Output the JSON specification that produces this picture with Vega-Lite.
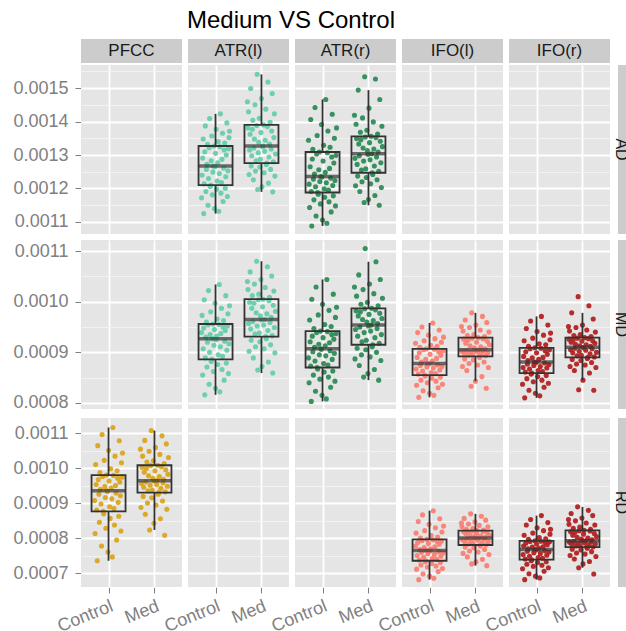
{
"$schema":"https://vega.github.io/schema/vega-lite/v6.json",
"padding":{"left":12,"top":9,"right":0,"bottom":0},
"background":"white",
"title":{"text":"Medium VS Control","fontSize":24,"fontWeight":"normal","font":"Liberation Sans","color":"#000000","anchor":"middle","dx":-32,"offset":6},
"config":{"view":{"stroke":null,"fill":"#E5E5E5"},"axis":{"labelFont":"Liberation Sans","labelFontSize":18,"labelColor":"#808080","tickColor":"#808080","domain":false},"text":{"font":"Liberation Sans"}},
"datasets":{
"panels":[{"p":"PFCC"},{"p":"ATR(l)"},{"p":"ATR(r)"},{"p":"IFO(l)"},{"p":"IFO(r)"}],
"strips":[{"t":"AD"},{"t":"MD"},{"t":"RD"}],
"pts":[
{"t":"AD","p":"PFCC","g":"Control","v":null},{"t":"AD","p":"IFO(l)","g":"Control","v":null},{"t":"AD","p":"IFO(r)","g":"Control","v":null},{"t":"MD","p":"PFCC","g":"Control","v":null},{"t":"RD","p":"ATR(l)","g":"Control","v":null},{"t":"RD","p":"ATR(r)","g":"Control","v":null},
{"t":"AD","p":"ATR(l)","g":"Control","v":0.001172},{"t":"AD","p":"ATR(l)","g":"Control","v":0.001240},{"t":"AD","p":"ATR(l)","g":"Control","v":0.001291},{"t":"AD","p":"ATR(l)","g":"Control","v":0.001348},
{"t":"AD","p":"ATR(l)","g":"Control","v":0.001125},{"t":"AD","p":"ATR(l)","g":"Control","v":0.001214},{"t":"AD","p":"ATR(l)","g":"Control","v":0.001310},{"t":"AD","p":"ATR(l)","g":"Control","v":0.001387},
{"t":"AD","p":"ATR(l)","g":"Control","v":0.001191},{"t":"AD","p":"ATR(l)","g":"Control","v":0.001257},{"t":"AD","p":"ATR(l)","g":"Control","v":0.001272},{"t":"AD","p":"ATR(l)","g":"Control","v":0.001332},
{"t":"AD","p":"ATR(l)","g":"Control","v":0.001150},{"t":"AD","p":"ATR(l)","g":"Control","v":0.001230},{"t":"AD","p":"ATR(l)","g":"Control","v":0.001322},{"t":"AD","p":"ATR(l)","g":"Control","v":0.001409},
{"t":"AD","p":"ATR(l)","g":"Control","v":0.001206},{"t":"AD","p":"ATR(l)","g":"Control","v":0.001210},{"t":"AD","p":"ATR(l)","g":"Control","v":0.001283},{"t":"AD","p":"ATR(l)","g":"Control","v":0.001357},
{"t":"AD","p":"ATR(l)","g":"Control","v":0.001181},{"t":"AD","p":"ATR(l)","g":"Control","v":0.001249},{"t":"AD","p":"ATR(l)","g":"Control","v":0.001267},{"t":"AD","p":"ATR(l)","g":"Control","v":0.001327},
{"t":"AD","p":"ATR(l)","g":"Control","v":0.001140},{"t":"AD","p":"ATR(l)","g":"Control","v":0.001265},{"t":"AD","p":"ATR(l)","g":"Control","v":0.001305},{"t":"AD","p":"ATR(l)","g":"Control","v":0.001377},
{"t":"AD","p":"ATR(l)","g":"Control","v":0.001198},{"t":"AD","p":"ATR(l)","g":"Control","v":0.001222},{"t":"AD","p":"ATR(l)","g":"Control","v":0.001277},{"t":"AD","p":"ATR(l)","g":"Control","v":0.001340},
{"t":"AD","p":"ATR(l)","g":"Control","v":0.001132},{"t":"AD","p":"ATR(l)","g":"Control","v":0.001245},{"t":"AD","p":"ATR(l)","g":"Control","v":0.001325},{"t":"AD","p":"ATR(l)","g":"Control","v":0.001423},
{"t":"AD","p":"ATR(l)","g":"Control","v":0.001186},{"t":"AD","p":"ATR(l)","g":"Control","v":0.001218},{"t":"AD","p":"ATR(l)","g":"Control","v":0.001287},{"t":"AD","p":"ATR(l)","g":"Control","v":0.001365},
{"t":"AD","p":"ATR(l)","g":"Control","v":0.001161},{"t":"AD","p":"ATR(l)","g":"Control","v":0.001261},{"t":"AD","p":"ATR(l)","g":"Control","v":0.001315},{"t":"AD","p":"ATR(l)","g":"Control","v":0.001336},
{"t":"AD","p":"ATR(l)","g":"Control","v":0.001201},{"t":"AD","p":"ATR(l)","g":"Control","v":0.001235},{"t":"AD","p":"ATR(l)","g":"Control","v":0.001300},{"t":"AD","p":"ATR(l)","g":"Control","v":0.001396},
{"t":"AD","p":"ATR(l)","g":"Control","v":0.001176},{"t":"AD","p":"ATR(l)","g":"Control","v":0.001253},{"t":"AD","p":"ATR(l)","g":"Control","v":0.001319},{"t":"AD","p":"ATR(l)","g":"Control","v":0.001352},
{"t":"AD","p":"ATR(l)","g":"Control","v":0.001371},
{"t":"AD","p":"ATR(l)","g":"Med","v":0.001459},
{"t":"AD","p":"ATR(l)","g":"Med","v":0.001381},{"t":"AD","p":"ATR(l)","g":"Med","v":0.001429},{"t":"AD","p":"ATR(l)","g":"Med","v":0.001242},{"t":"AD","p":"ATR(l)","g":"Med","v":0.001315},
{"t":"AD","p":"ATR(l)","g":"Med","v":0.001362},{"t":"AD","p":"ATR(l)","g":"Med","v":0.001499},{"t":"AD","p":"ATR(l)","g":"Med","v":0.001267},{"t":"AD","p":"ATR(l)","g":"Med","v":0.001298},
{"t":"AD","p":"ATR(l)","g":"Med","v":0.001377},{"t":"AD","p":"ATR(l)","g":"Med","v":0.001404},{"t":"AD","p":"ATR(l)","g":"Med","v":0.001226},{"t":"AD","p":"ATR(l)","g":"Med","v":0.001321},
{"t":"AD","p":"ATR(l)","g":"Med","v":0.001348},{"t":"AD","p":"ATR(l)","g":"Med","v":0.001450},{"t":"AD","p":"ATR(l)","g":"Med","v":0.001252},{"t":"AD","p":"ATR(l)","g":"Med","v":0.001283},
{"t":"AD","p":"ATR(l)","g":"Med","v":0.001388},{"t":"AD","p":"ATR(l)","g":"Med","v":0.001541},{"t":"AD","p":"ATR(l)","g":"Med","v":0.001197},{"t":"AD","p":"ATR(l)","g":"Med","v":0.001307},
{"t":"AD","p":"ATR(l)","g":"Med","v":0.001338},{"t":"AD","p":"ATR(l)","g":"Med","v":0.001410},{"t":"AD","p":"ATR(l)","g":"Med","v":0.001264},{"t":"AD","p":"ATR(l)","g":"Med","v":0.001287},
{"t":"AD","p":"ATR(l)","g":"Med","v":0.001367},{"t":"AD","p":"ATR(l)","g":"Med","v":0.001469},{"t":"AD","p":"ATR(l)","g":"Med","v":0.001205},{"t":"AD","p":"ATR(l)","g":"Med","v":0.001325},
{"t":"AD","p":"ATR(l)","g":"Med","v":0.001327},{"t":"AD","p":"ATR(l)","g":"Med","v":0.001390},{"t":"AD","p":"ATR(l)","g":"Med","v":0.001247},{"t":"AD","p":"ATR(l)","g":"Med","v":0.001311},
{"t":"AD","p":"ATR(l)","g":"Med","v":0.001344},{"t":"AD","p":"ATR(l)","g":"Med","v":0.001437},{"t":"AD","p":"ATR(l)","g":"Med","v":0.001272},{"t":"AD","p":"ATR(l)","g":"Med","v":0.001276},
{"t":"AD","p":"ATR(l)","g":"Med","v":0.001385},{"t":"AD","p":"ATR(l)","g":"Med","v":0.001518},{"t":"AD","p":"ATR(l)","g":"Med","v":0.001216},{"t":"AD","p":"ATR(l)","g":"Med","v":0.001294},
{"t":"AD","p":"ATR(l)","g":"Med","v":0.001333},{"t":"AD","p":"ATR(l)","g":"Med","v":0.001398},{"t":"AD","p":"ATR(l)","g":"Med","v":0.001257},{"t":"AD","p":"ATR(l)","g":"Med","v":0.001318},
{"t":"AD","p":"ATR(l)","g":"Med","v":0.001372},{"t":"AD","p":"ATR(l)","g":"Med","v":0.001484},{"t":"AD","p":"ATR(l)","g":"Med","v":0.001190},{"t":"AD","p":"ATR(l)","g":"Med","v":0.001280},
{"t":"AD","p":"ATR(l)","g":"Med","v":0.001352},{"t":"AD","p":"ATR(l)","g":"Med","v":0.001423},{"t":"AD","p":"ATR(l)","g":"Med","v":0.001237},{"t":"AD","p":"ATR(l)","g":"Med","v":0.001303},
{"t":"AD","p":"ATR(r)","g":"Control","v":0.001344},{"t":"AD","p":"ATR(r)","g":"Control","v":0.001213},{"t":"AD","p":"ATR(r)","g":"Control","v":0.001143},{"t":"AD","p":"ATR(r)","g":"Control","v":0.001265},
{"t":"AD","p":"ATR(r)","g":"Control","v":0.001406},{"t":"AD","p":"ATR(r)","g":"Control","v":0.001191},{"t":"AD","p":"ATR(r)","g":"Control","v":0.001088},{"t":"AD","p":"ATR(r)","g":"Control","v":0.001288},
{"t":"AD","p":"ATR(r)","g":"Control","v":0.001317},{"t":"AD","p":"ATR(r)","g":"Control","v":0.001228},{"t":"AD","p":"ATR(r)","g":"Control","v":0.001166},{"t":"AD","p":"ATR(r)","g":"Control","v":0.001243},
{"t":"AD","p":"ATR(r)","g":"Control","v":0.001442},{"t":"AD","p":"ATR(r)","g":"Control","v":0.001205},{"t":"AD","p":"ATR(r)","g":"Control","v":0.001118},{"t":"AD","p":"ATR(r)","g":"Control","v":0.001303},
{"t":"AD","p":"ATR(r)","g":"Control","v":0.001358},{"t":"AD","p":"ATR(r)","g":"Control","v":0.001188},{"t":"AD","p":"ATR(r)","g":"Control","v":0.001183},{"t":"AD","p":"ATR(r)","g":"Control","v":0.001256},
{"t":"AD","p":"ATR(r)","g":"Control","v":0.001309},{"t":"AD","p":"ATR(r)","g":"Control","v":0.001221},{"t":"AD","p":"ATR(r)","g":"Control","v":0.001154},{"t":"AD","p":"ATR(r)","g":"Control","v":0.001236},
{"t":"AD","p":"ATR(r)","g":"Control","v":0.001391},{"t":"AD","p":"ATR(r)","g":"Control","v":0.001234},{"t":"AD","p":"ATR(r)","g":"Control","v":0.001106},{"t":"AD","p":"ATR(r)","g":"Control","v":0.001282},
{"t":"AD","p":"ATR(r)","g":"Control","v":0.001329},{"t":"AD","p":"ATR(r)","g":"Control","v":0.001199},{"t":"AD","p":"ATR(r)","g":"Control","v":0.001174},{"t":"AD","p":"ATR(r)","g":"Control","v":0.001248},
{"t":"AD","p":"ATR(r)","g":"Control","v":0.001466},{"t":"AD","p":"ATR(r)","g":"Control","v":0.001217},{"t":"AD","p":"ATR(r)","g":"Control","v":0.001096},{"t":"AD","p":"ATR(r)","g":"Control","v":0.001307},
{"t":"AD","p":"ATR(r)","g":"Control","v":0.001372},{"t":"AD","p":"ATR(r)","g":"Control","v":0.001195},{"t":"AD","p":"ATR(r)","g":"Control","v":0.001160},{"t":"AD","p":"ATR(r)","g":"Control","v":0.001260},
{"t":"AD","p":"ATR(r)","g":"Control","v":0.001323},{"t":"AD","p":"ATR(r)","g":"Control","v":0.001231},{"t":"AD","p":"ATR(r)","g":"Control","v":0.001130},{"t":"AD","p":"ATR(r)","g":"Control","v":0.001294},
{"t":"AD","p":"ATR(r)","g":"Control","v":0.001422},{"t":"AD","p":"ATR(r)","g":"Control","v":0.001209},{"t":"AD","p":"ATR(r)","g":"Control","v":0.001178},{"t":"AD","p":"ATR(r)","g":"Control","v":0.001276},
{"t":"AD","p":"ATR(r)","g":"Control","v":0.001350},{"t":"AD","p":"ATR(r)","g":"Control","v":0.001224},{"t":"AD","p":"ATR(r)","g":"Control","v":0.001148},{"t":"AD","p":"ATR(r)","g":"Control","v":0.001299},
{"t":"AD","p":"ATR(r)","g":"Control","v":0.001381},
{"t":"AD","p":"ATR(r)","g":"Med","v":0.001419},
{"t":"AD","p":"ATR(r)","g":"Med","v":0.001290},{"t":"AD","p":"ATR(r)","g":"Med","v":0.001208},{"t":"AD","p":"ATR(r)","g":"Med","v":0.001392},{"t":"AD","p":"ATR(r)","g":"Med","v":0.001349},
{"t":"AD","p":"ATR(r)","g":"Med","v":0.001272},{"t":"AD","p":"ATR(r)","g":"Med","v":0.001237},{"t":"AD","p":"ATR(r)","g":"Med","v":0.001494},{"t":"AD","p":"ATR(r)","g":"Med","v":0.001333},
{"t":"AD","p":"ATR(r)","g":"Med","v":0.001298},{"t":"AD","p":"ATR(r)","g":"Med","v":0.001191},{"t":"AD","p":"ATR(r)","g":"Med","v":0.001368},{"t":"AD","p":"ATR(r)","g":"Med","v":0.001346},
{"t":"AD","p":"ATR(r)","g":"Med","v":0.001255},{"t":"AD","p":"ATR(r)","g":"Med","v":0.001220},{"t":"AD","p":"ATR(r)","g":"Med","v":0.001411},{"t":"AD","p":"ATR(r)","g":"Med","v":0.001321},
{"t":"AD","p":"ATR(r)","g":"Med","v":0.001282},{"t":"AD","p":"ATR(r)","g":"Med","v":0.001158},{"t":"AD","p":"ATR(r)","g":"Med","v":0.001534},{"t":"AD","p":"ATR(r)","g":"Med","v":0.001354},
{"t":"AD","p":"ATR(r)","g":"Med","v":0.001259},{"t":"AD","p":"ATR(r)","g":"Med","v":0.001233},{"t":"AD","p":"ATR(r)","g":"Med","v":0.001374},{"t":"AD","p":"ATR(r)","g":"Med","v":0.001313},
{"t":"AD","p":"ATR(r)","g":"Med","v":0.001302},{"t":"AD","p":"ATR(r)","g":"Med","v":0.001167},{"t":"AD","p":"ATR(r)","g":"Med","v":0.001440},{"t":"AD","p":"ATR(r)","g":"Med","v":0.001337},
{"t":"AD","p":"ATR(r)","g":"Med","v":0.001286},{"t":"AD","p":"ATR(r)","g":"Med","v":0.001214},{"t":"AD","p":"ATR(r)","g":"Med","v":0.001356},{"t":"AD","p":"ATR(r)","g":"Med","v":0.001304},
{"t":"AD","p":"ATR(r)","g":"Med","v":0.001247},{"t":"AD","p":"ATR(r)","g":"Med","v":0.001242},{"t":"AD","p":"ATR(r)","g":"Med","v":0.001399},{"t":"AD","p":"ATR(r)","g":"Med","v":0.001318},
{"t":"AD","p":"ATR(r)","g":"Med","v":0.001267},{"t":"AD","p":"ATR(r)","g":"Med","v":0.001179},{"t":"AD","p":"ATR(r)","g":"Med","v":0.001527},{"t":"AD","p":"ATR(r)","g":"Med","v":0.001352},
{"t":"AD","p":"ATR(r)","g":"Med","v":0.001294},{"t":"AD","p":"ATR(r)","g":"Med","v":0.001226},{"t":"AD","p":"ATR(r)","g":"Med","v":0.001363},{"t":"AD","p":"ATR(r)","g":"Med","v":0.001309},
{"t":"AD","p":"ATR(r)","g":"Med","v":0.001251},{"t":"AD","p":"ATR(r)","g":"Med","v":0.001150},{"t":"AD","p":"ATR(r)","g":"Med","v":0.001466},{"t":"AD","p":"ATR(r)","g":"Med","v":0.001341},
{"t":"AD","p":"ATR(r)","g":"Med","v":0.001277},{"t":"AD","p":"ATR(r)","g":"Med","v":0.001203},{"t":"AD","p":"ATR(r)","g":"Med","v":0.001386},{"t":"AD","p":"ATR(r)","g":"Med","v":0.001325},
{"t":"MD","p":"ATR(l)","g":"Control","v":0.000939},{"t":"MD","p":"ATR(l)","g":"Control","v":0.000973},{"t":"MD","p":"ATR(l)","g":"Control","v":0.000855},{"t":"MD","p":"ATR(l)","g":"Control","v":0.000907},
{"t":"MD","p":"ATR(l)","g":"Control","v":0.000948},{"t":"MD","p":"ATR(l)","g":"Control","v":0.001004},{"t":"MD","p":"ATR(l)","g":"Control","v":0.000816},{"t":"MD","p":"ATR(l)","g":"Control","v":0.000889},
{"t":"MD","p":"ATR(l)","g":"Control","v":0.000930},{"t":"MD","p":"ATR(l)","g":"Control","v":0.000960},{"t":"MD","p":"ATR(l)","g":"Control","v":0.000871},{"t":"MD","p":"ATR(l)","g":"Control","v":0.000920},
{"t":"MD","p":"ATR(l)","g":"Control","v":0.000954},{"t":"MD","p":"ATR(l)","g":"Control","v":0.001022},{"t":"MD","p":"ATR(l)","g":"Control","v":0.000837},{"t":"MD","p":"ATR(l)","g":"Control","v":0.000900},
{"t":"MD","p":"ATR(l)","g":"Control","v":0.000935},{"t":"MD","p":"ATR(l)","g":"Control","v":0.000980},{"t":"MD","p":"ATR(l)","g":"Control","v":0.000882},{"t":"MD","p":"ATR(l)","g":"Control","v":0.000886},
{"t":"MD","p":"ATR(l)","g":"Control","v":0.000927},{"t":"MD","p":"ATR(l)","g":"Control","v":0.000956},{"t":"MD","p":"ATR(l)","g":"Control","v":0.000862},{"t":"MD","p":"ATR(l)","g":"Control","v":0.000914},
{"t":"MD","p":"ATR(l)","g":"Control","v":0.000945},{"t":"MD","p":"ATR(l)","g":"Control","v":0.000997},{"t":"MD","p":"ATR(l)","g":"Control","v":0.000829},{"t":"MD","p":"ATR(l)","g":"Control","v":0.000925},
{"t":"MD","p":"ATR(l)","g":"Control","v":0.000932},{"t":"MD","p":"ATR(l)","g":"Control","v":0.000966},{"t":"MD","p":"ATR(l)","g":"Control","v":0.000876},{"t":"MD","p":"ATR(l)","g":"Control","v":0.000895},
{"t":"MD","p":"ATR(l)","g":"Control","v":0.000955},{"t":"MD","p":"ATR(l)","g":"Control","v":0.001034},{"t":"MD","p":"ATR(l)","g":"Control","v":0.000822},{"t":"MD","p":"ATR(l)","g":"Control","v":0.000911},
{"t":"MD","p":"ATR(l)","g":"Control","v":0.000937},{"t":"MD","p":"ATR(l)","g":"Control","v":0.000987},{"t":"MD","p":"ATR(l)","g":"Control","v":0.000866},{"t":"MD","p":"ATR(l)","g":"Control","v":0.000892},
{"t":"MD","p":"ATR(l)","g":"Control","v":0.000950},{"t":"MD","p":"ATR(l)","g":"Control","v":0.000963},{"t":"MD","p":"ATR(l)","g":"Control","v":0.000845},{"t":"MD","p":"ATR(l)","g":"Control","v":0.000922},
{"t":"MD","p":"ATR(l)","g":"Control","v":0.000943},{"t":"MD","p":"ATR(l)","g":"Control","v":0.001012},{"t":"MD","p":"ATR(l)","g":"Control","v":0.000879},{"t":"MD","p":"ATR(l)","g":"Control","v":0.000904},
{"t":"MD","p":"ATR(l)","g":"Control","v":0.000952},{"t":"MD","p":"ATR(l)","g":"Control","v":0.000976},{"t":"MD","p":"ATR(l)","g":"Control","v":0.000858},{"t":"MD","p":"ATR(l)","g":"Control","v":0.000917},
{"t":"MD","p":"ATR(l)","g":"Control","v":0.000992},
{"t":"MD","p":"ATR(l)","g":"Med","v":0.001040},
{"t":"MD","p":"ATR(l)","g":"Med","v":0.001024},{"t":"MD","p":"ATR(l)","g":"Med","v":0.000957},{"t":"MD","p":"ATR(l)","g":"Med","v":0.000902},{"t":"MD","p":"ATR(l)","g":"Med","v":0.000999},
{"t":"MD","p":"ATR(l)","g":"Med","v":0.001059},{"t":"MD","p":"ATR(l)","g":"Med","v":0.000946},{"t":"MD","p":"ATR(l)","g":"Med","v":0.000924},{"t":"MD","p":"ATR(l)","g":"Med","v":0.000987},
{"t":"MD","p":"ATR(l)","g":"Med","v":0.001012},{"t":"MD","p":"ATR(l)","g":"Med","v":0.000961},{"t":"MD","p":"ATR(l)","g":"Med","v":0.000889},{"t":"MD","p":"ATR(l)","g":"Med","v":0.000997},
{"t":"MD","p":"ATR(l)","g":"Med","v":0.001035},{"t":"MD","p":"ATR(l)","g":"Med","v":0.000936},{"t":"MD","p":"ATR(l)","g":"Med","v":0.000911},{"t":"MD","p":"ATR(l)","g":"Med","v":0.000978},
{"t":"MD","p":"ATR(l)","g":"Med","v":0.001080},{"t":"MD","p":"ATR(l)","g":"Med","v":0.000952},{"t":"MD","p":"ATR(l)","g":"Med","v":0.000865},{"t":"MD","p":"ATR(l)","g":"Med","v":0.001004},
{"t":"MD","p":"ATR(l)","g":"Med","v":0.001015},{"t":"MD","p":"ATR(l)","g":"Med","v":0.000938},{"t":"MD","p":"ATR(l)","g":"Med","v":0.000921},{"t":"MD","p":"ATR(l)","g":"Med","v":0.000972},
{"t":"MD","p":"ATR(l)","g":"Med","v":0.001044},{"t":"MD","p":"ATR(l)","g":"Med","v":0.000964},{"t":"MD","p":"ATR(l)","g":"Med","v":0.000872},{"t":"MD","p":"ATR(l)","g":"Med","v":0.000990},
{"t":"MD","p":"ATR(l)","g":"Med","v":0.001005},{"t":"MD","p":"ATR(l)","g":"Med","v":0.000954},{"t":"MD","p":"ATR(l)","g":"Med","v":0.000907},{"t":"MD","p":"ATR(l)","g":"Med","v":0.000965},
{"t":"MD","p":"ATR(l)","g":"Med","v":0.001028},{"t":"MD","p":"ATR(l)","g":"Med","v":0.000931},{"t":"MD","p":"ATR(l)","g":"Med","v":0.000927},{"t":"MD","p":"ATR(l)","g":"Med","v":0.000976},
{"t":"MD","p":"ATR(l)","g":"Med","v":0.001069},{"t":"MD","p":"ATR(l)","g":"Med","v":0.000943},{"t":"MD","p":"ATR(l)","g":"Med","v":0.000881},{"t":"MD","p":"ATR(l)","g":"Med","v":0.001002},
{"t":"MD","p":"ATR(l)","g":"Med","v":0.001009},{"t":"MD","p":"ATR(l)","g":"Med","v":0.000959},{"t":"MD","p":"ATR(l)","g":"Med","v":0.000915},{"t":"MD","p":"ATR(l)","g":"Med","v":0.000969},
{"t":"MD","p":"ATR(l)","g":"Med","v":0.001051},{"t":"MD","p":"ATR(l)","g":"Med","v":0.000933},{"t":"MD","p":"ATR(l)","g":"Med","v":0.000859},{"t":"MD","p":"ATR(l)","g":"Med","v":0.000993},
{"t":"MD","p":"ATR(l)","g":"Med","v":0.001021},{"t":"MD","p":"ATR(l)","g":"Med","v":0.000949},{"t":"MD","p":"ATR(l)","g":"Med","v":0.000899},{"t":"MD","p":"ATR(l)","g":"Med","v":0.000981},
{"t":"MD","p":"ATR(r)","g":"Control","v":0.000889},{"t":"MD","p":"ATR(r)","g":"Control","v":0.000840},{"t":"MD","p":"ATR(r)","g":"Control","v":0.000964},{"t":"MD","p":"ATR(r)","g":"Control","v":0.000921},
{"t":"MD","p":"ATR(r)","g":"Control","v":0.000873},{"t":"MD","p":"ATR(r)","g":"Control","v":0.000803},{"t":"MD","p":"ATR(r)","g":"Control","v":0.001005},{"t":"MD","p":"ATR(r)","g":"Control","v":0.000932},
{"t":"MD","p":"ATR(r)","g":"Control","v":0.000901},{"t":"MD","p":"ATR(r)","g":"Control","v":0.000855},{"t":"MD","p":"ATR(r)","g":"Control","v":0.000947},{"t":"MD","p":"ATR(r)","g":"Control","v":0.000910},
{"t":"MD","p":"ATR(r)","g":"Control","v":0.000883},{"t":"MD","p":"ATR(r)","g":"Control","v":0.000823},{"t":"MD","p":"ATR(r)","g":"Control","v":0.001029},{"t":"MD","p":"ATR(r)","g":"Control","v":0.000939},
{"t":"MD","p":"ATR(r)","g":"Control","v":0.000870},{"t":"MD","p":"ATR(r)","g":"Control","v":0.000867},{"t":"MD","p":"ATR(r)","g":"Control","v":0.000974},{"t":"MD","p":"ATR(r)","g":"Control","v":0.000916},
{"t":"MD","p":"ATR(r)","g":"Control","v":0.000895},{"t":"MD","p":"ATR(r)","g":"Control","v":0.000847},{"t":"MD","p":"ATR(r)","g":"Control","v":0.000942},{"t":"MD","p":"ATR(r)","g":"Control","v":0.000907},
{"t":"MD","p":"ATR(r)","g":"Control","v":0.000906},{"t":"MD","p":"ATR(r)","g":"Control","v":0.000815},{"t":"MD","p":"ATR(r)","g":"Control","v":0.000995},{"t":"MD","p":"ATR(r)","g":"Control","v":0.000929},
{"t":"MD","p":"ATR(r)","g":"Control","v":0.000878},{"t":"MD","p":"ATR(r)","g":"Control","v":0.000861},{"t":"MD","p":"ATR(r)","g":"Control","v":0.000955},{"t":"MD","p":"ATR(r)","g":"Control","v":0.000913},
{"t":"MD","p":"ATR(r)","g":"Control","v":0.000893},{"t":"MD","p":"ATR(r)","g":"Control","v":0.000808},{"t":"MD","p":"ATR(r)","g":"Control","v":0.001044},{"t":"MD","p":"ATR(r)","g":"Control","v":0.000941},
{"t":"MD","p":"ATR(r)","g":"Control","v":0.000875},{"t":"MD","p":"ATR(r)","g":"Control","v":0.000851},{"t":"MD","p":"ATR(r)","g":"Control","v":0.000983},{"t":"MD","p":"ATR(r)","g":"Control","v":0.000919},
{"t":"MD","p":"ATR(r)","g":"Control","v":0.000903},{"t":"MD","p":"ATR(r)","g":"Control","v":0.000831},{"t":"MD","p":"ATR(r)","g":"Control","v":0.000951},{"t":"MD","p":"ATR(r)","g":"Control","v":0.000935},
{"t":"MD","p":"ATR(r)","g":"Control","v":0.000886},{"t":"MD","p":"ATR(r)","g":"Control","v":0.000863},{"t":"MD","p":"ATR(r)","g":"Control","v":0.001015},{"t":"MD","p":"ATR(r)","g":"Control","v":0.000926},
{"t":"MD","p":"ATR(r)","g":"Control","v":0.000898},{"t":"MD","p":"ATR(r)","g":"Control","v":0.000843},{"t":"MD","p":"ATR(r)","g":"Control","v":0.000969},{"t":"MD","p":"ATR(r)","g":"Control","v":0.000937},
{"t":"MD","p":"ATR(r)","g":"Control","v":0.000989},
{"t":"MD","p":"ATR(r)","g":"Med","v":0.001029},
{"t":"MD","p":"ATR(r)","g":"Med","v":0.000887},{"t":"MD","p":"ATR(r)","g":"Med","v":0.000945},{"t":"MD","p":"ATR(r)","g":"Med","v":0.000982},{"t":"MD","p":"ATR(r)","g":"Med","v":0.001011},
{"t":"MD","p":"ATR(r)","g":"Med","v":0.000908},{"t":"MD","p":"ATR(r)","g":"Med","v":0.000932},{"t":"MD","p":"ATR(r)","g":"Med","v":0.000972},{"t":"MD","p":"ATR(r)","g":"Med","v":0.001053},
{"t":"MD","p":"ATR(r)","g":"Med","v":0.000874},{"t":"MD","p":"ATR(r)","g":"Med","v":0.000950},{"t":"MD","p":"ATR(r)","g":"Med","v":0.000980},{"t":"MD","p":"ATR(r)","g":"Med","v":0.000995},
{"t":"MD","p":"ATR(r)","g":"Med","v":0.000895},{"t":"MD","p":"ATR(r)","g":"Med","v":0.000921},{"t":"MD","p":"ATR(r)","g":"Med","v":0.000965},{"t":"MD","p":"ATR(r)","g":"Med","v":0.001024},
{"t":"MD","p":"ATR(r)","g":"Med","v":0.000851},{"t":"MD","p":"ATR(r)","g":"Med","v":0.000939},{"t":"MD","p":"ATR(r)","g":"Med","v":0.000986},{"t":"MD","p":"ATR(r)","g":"Med","v":0.001105},
{"t":"MD","p":"ATR(r)","g":"Med","v":0.000905},{"t":"MD","p":"ATR(r)","g":"Med","v":0.000924},{"t":"MD","p":"ATR(r)","g":"Med","v":0.000960},{"t":"MD","p":"ATR(r)","g":"Med","v":0.000999},
{"t":"MD","p":"ATR(r)","g":"Med","v":0.000858},{"t":"MD","p":"ATR(r)","g":"Med","v":0.000952},{"t":"MD","p":"ATR(r)","g":"Med","v":0.000975},{"t":"MD","p":"ATR(r)","g":"Med","v":0.001035},
{"t":"MD","p":"ATR(r)","g":"Med","v":0.000891},{"t":"MD","p":"ATR(r)","g":"Med","v":0.000942},{"t":"MD","p":"ATR(r)","g":"Med","v":0.000954},{"t":"MD","p":"ATR(r)","g":"Med","v":0.000987},
{"t":"MD","p":"ATR(r)","g":"Med","v":0.000911},{"t":"MD","p":"ATR(r)","g":"Med","v":0.000915},{"t":"MD","p":"ATR(r)","g":"Med","v":0.000963},{"t":"MD","p":"ATR(r)","g":"Med","v":0.001016},
{"t":"MD","p":"ATR(r)","g":"Med","v":0.000866},{"t":"MD","p":"ATR(r)","g":"Med","v":0.000929},{"t":"MD","p":"ATR(r)","g":"Med","v":0.000984},{"t":"MD","p":"ATR(r)","g":"Med","v":0.001079},
{"t":"MD","p":"ATR(r)","g":"Med","v":0.000900},{"t":"MD","p":"ATR(r)","g":"Med","v":0.000947},{"t":"MD","p":"ATR(r)","g":"Med","v":0.000957},{"t":"MD","p":"ATR(r)","g":"Med","v":0.000992},
{"t":"MD","p":"ATR(r)","g":"Med","v":0.000845},{"t":"MD","p":"ATR(r)","g":"Med","v":0.000918},{"t":"MD","p":"ATR(r)","g":"Med","v":0.000977},{"t":"MD","p":"ATR(r)","g":"Med","v":0.001044},
{"t":"MD","p":"ATR(r)","g":"Med","v":0.000884},{"t":"MD","p":"ATR(r)","g":"Med","v":0.000935},{"t":"MD","p":"ATR(r)","g":"Med","v":0.000967},{"t":"MD","p":"ATR(r)","g":"Med","v":0.001007},
{"t":"MD","p":"IFO(l)","g":"Control","v":0.000918},{"t":"MD","p":"IFO(l)","g":"Control","v":0.000867},{"t":"MD","p":"IFO(l)","g":"Control","v":0.000835},{"t":"MD","p":"IFO(l)","g":"Control","v":0.000890},
{"t":"MD","p":"IFO(l)","g":"Control","v":0.000939},{"t":"MD","p":"IFO(l)","g":"Control","v":0.000857},{"t":"MD","p":"IFO(l)","g":"Control","v":0.000811},{"t":"MD","p":"IFO(l)","g":"Control","v":0.000899},
{"t":"MD","p":"IFO(l)","g":"Control","v":0.000910},{"t":"MD","p":"IFO(l)","g":"Control","v":0.000874},{"t":"MD","p":"IFO(l)","g":"Control","v":0.000845},{"t":"MD","p":"IFO(l)","g":"Control","v":0.000881},
{"t":"MD","p":"IFO(l)","g":"Control","v":0.000950},{"t":"MD","p":"IFO(l)","g":"Control","v":0.000863},{"t":"MD","p":"IFO(l)","g":"Control","v":0.000824},{"t":"MD","p":"IFO(l)","g":"Control","v":0.000905},
{"t":"MD","p":"IFO(l)","g":"Control","v":0.000923},{"t":"MD","p":"IFO(l)","g":"Control","v":0.000855},{"t":"MD","p":"IFO(l)","g":"Control","v":0.000853},{"t":"MD","p":"IFO(l)","g":"Control","v":0.000886},
{"t":"MD","p":"IFO(l)","g":"Control","v":0.000907},{"t":"MD","p":"IFO(l)","g":"Control","v":0.000871},{"t":"MD","p":"IFO(l)","g":"Control","v":0.000840},{"t":"MD","p":"IFO(l)","g":"Control","v":0.000878},
{"t":"MD","p":"IFO(l)","g":"Control","v":0.000934},{"t":"MD","p":"IFO(l)","g":"Control","v":0.000877},{"t":"MD","p":"IFO(l)","g":"Control","v":0.000819},{"t":"MD","p":"IFO(l)","g":"Control","v":0.000896},
{"t":"MD","p":"IFO(l)","g":"Control","v":0.000914},{"t":"MD","p":"IFO(l)","g":"Control","v":0.000860},{"t":"MD","p":"IFO(l)","g":"Control","v":0.000849},{"t":"MD","p":"IFO(l)","g":"Control","v":0.000883},
{"t":"MD","p":"IFO(l)","g":"Control","v":0.000958},{"t":"MD","p":"IFO(l)","g":"Control","v":0.000869},{"t":"MD","p":"IFO(l)","g":"Control","v":0.000815},{"t":"MD","p":"IFO(l)","g":"Control","v":0.000906},
{"t":"MD","p":"IFO(l)","g":"Control","v":0.000927},{"t":"MD","p":"IFO(l)","g":"Control","v":0.000858},{"t":"MD","p":"IFO(l)","g":"Control","v":0.000843},{"t":"MD","p":"IFO(l)","g":"Control","v":0.000888},
{"t":"MD","p":"IFO(l)","g":"Control","v":0.000912},{"t":"MD","p":"IFO(l)","g":"Control","v":0.000875},{"t":"MD","p":"IFO(l)","g":"Control","v":0.000830},{"t":"MD","p":"IFO(l)","g":"Control","v":0.000901},
{"t":"MD","p":"IFO(l)","g":"Control","v":0.000944},{"t":"MD","p":"IFO(l)","g":"Control","v":0.000865},{"t":"MD","p":"IFO(l)","g":"Control","v":0.000851},{"t":"MD","p":"IFO(l)","g":"Control","v":0.000894},
{"t":"MD","p":"IFO(l)","g":"Control","v":0.000920},{"t":"MD","p":"IFO(l)","g":"Control","v":0.000872},{"t":"MD","p":"IFO(l)","g":"Control","v":0.000837},{"t":"MD","p":"IFO(l)","g":"Control","v":0.000903},
{"t":"MD","p":"IFO(l)","g":"Control","v":0.000930},
{"t":"MD","p":"IFO(l)","g":"Med","v":0.000951},
{"t":"MD","p":"IFO(l)","g":"Med","v":0.000902},{"t":"MD","p":"IFO(l)","g":"Med","v":0.000872},{"t":"MD","p":"IFO(l)","g":"Med","v":0.000942},{"t":"MD","p":"IFO(l)","g":"Med","v":0.000926},
{"t":"MD","p":"IFO(l)","g":"Med","v":0.000898},{"t":"MD","p":"IFO(l)","g":"Med","v":0.000887},{"t":"MD","p":"IFO(l)","g":"Med","v":0.000964},{"t":"MD","p":"IFO(l)","g":"Med","v":0.000918},
{"t":"MD","p":"IFO(l)","g":"Med","v":0.000903},{"t":"MD","p":"IFO(l)","g":"Med","v":0.000864},{"t":"MD","p":"IFO(l)","g":"Med","v":0.000933},{"t":"MD","p":"IFO(l)","g":"Med","v":0.000924},
{"t":"MD","p":"IFO(l)","g":"Med","v":0.000894},{"t":"MD","p":"IFO(l)","g":"Med","v":0.000878},{"t":"MD","p":"IFO(l)","g":"Med","v":0.000949},{"t":"MD","p":"IFO(l)","g":"Med","v":0.000913},
{"t":"MD","p":"IFO(l)","g":"Med","v":0.000900},{"t":"MD","p":"IFO(l)","g":"Med","v":0.000833},{"t":"MD","p":"IFO(l)","g":"Med","v":0.000978},{"t":"MD","p":"IFO(l)","g":"Med","v":0.000928},
{"t":"MD","p":"IFO(l)","g":"Med","v":0.000895},{"t":"MD","p":"IFO(l)","g":"Med","v":0.000885},{"t":"MD","p":"IFO(l)","g":"Med","v":0.000935},{"t":"MD","p":"IFO(l)","g":"Med","v":0.000909},
{"t":"MD","p":"IFO(l)","g":"Med","v":0.000904},{"t":"MD","p":"IFO(l)","g":"Med","v":0.000843},{"t":"MD","p":"IFO(l)","g":"Med","v":0.000954},{"t":"MD","p":"IFO(l)","g":"Med","v":0.000920},
{"t":"MD","p":"IFO(l)","g":"Med","v":0.000901},{"t":"MD","p":"IFO(l)","g":"Med","v":0.000875},{"t":"MD","p":"IFO(l)","g":"Med","v":0.000929},{"t":"MD","p":"IFO(l)","g":"Med","v":0.000905},
{"t":"MD","p":"IFO(l)","g":"Med","v":0.000892},{"t":"MD","p":"IFO(l)","g":"Med","v":0.000890},{"t":"MD","p":"IFO(l)","g":"Med","v":0.000944},{"t":"MD","p":"IFO(l)","g":"Med","v":0.000911},
{"t":"MD","p":"IFO(l)","g":"Med","v":0.000897},{"t":"MD","p":"IFO(l)","g":"Med","v":0.000852},{"t":"MD","p":"IFO(l)","g":"Med","v":0.000971},{"t":"MD","p":"IFO(l)","g":"Med","v":0.000927},
{"t":"MD","p":"IFO(l)","g":"Med","v":0.000903},{"t":"MD","p":"IFO(l)","g":"Med","v":0.000881},{"t":"MD","p":"IFO(l)","g":"Med","v":0.000931},{"t":"MD","p":"IFO(l)","g":"Med","v":0.000907},
{"t":"MD","p":"IFO(l)","g":"Med","v":0.000893},{"t":"MD","p":"IFO(l)","g":"Med","v":0.000829},{"t":"MD","p":"IFO(l)","g":"Med","v":0.000959},{"t":"MD","p":"IFO(l)","g":"Med","v":0.000922},
{"t":"MD","p":"IFO(l)","g":"Med","v":0.000899},{"t":"MD","p":"IFO(l)","g":"Med","v":0.000870},{"t":"MD","p":"IFO(l)","g":"Med","v":0.000940},{"t":"MD","p":"IFO(l)","g":"Med","v":0.000915},
{"t":"MD","p":"IFO(r)","g":"Control","v":0.000837},{"t":"MD","p":"IFO(r)","g":"Control","v":0.000870},{"t":"MD","p":"IFO(r)","g":"Control","v":0.000892},{"t":"MD","p":"IFO(r)","g":"Control","v":0.000923},
{"t":"MD","p":"IFO(r)","g":"Control","v":0.000810},{"t":"MD","p":"IFO(r)","g":"Control","v":0.000861},{"t":"MD","p":"IFO(r)","g":"Control","v":0.000901},{"t":"MD","p":"IFO(r)","g":"Control","v":0.000947},
{"t":"MD","p":"IFO(r)","g":"Control","v":0.000848},{"t":"MD","p":"IFO(r)","g":"Control","v":0.000877},{"t":"MD","p":"IFO(r)","g":"Control","v":0.000884},{"t":"MD","p":"IFO(r)","g":"Control","v":0.000912},
{"t":"MD","p":"IFO(r)","g":"Control","v":0.000825},{"t":"MD","p":"IFO(r)","g":"Control","v":0.000867},{"t":"MD","p":"IFO(r)","g":"Control","v":0.000907},{"t":"MD","p":"IFO(r)","g":"Control","v":0.000962},
{"t":"MD","p":"IFO(r)","g":"Control","v":0.000857},{"t":"MD","p":"IFO(r)","g":"Control","v":0.000859},{"t":"MD","p":"IFO(r)","g":"Control","v":0.000889},{"t":"MD","p":"IFO(r)","g":"Control","v":0.000928},
{"t":"MD","p":"IFO(r)","g":"Control","v":0.000842},{"t":"MD","p":"IFO(r)","g":"Control","v":0.000874},{"t":"MD","p":"IFO(r)","g":"Control","v":0.000881},{"t":"MD","p":"IFO(r)","g":"Control","v":0.000909},
{"t":"MD","p":"IFO(r)","g":"Control","v":0.000819},{"t":"MD","p":"IFO(r)","g":"Control","v":0.000880},{"t":"MD","p":"IFO(r)","g":"Control","v":0.000899},{"t":"MD","p":"IFO(r)","g":"Control","v":0.000941},
{"t":"MD","p":"IFO(r)","g":"Control","v":0.000852},{"t":"MD","p":"IFO(r)","g":"Control","v":0.000864},{"t":"MD","p":"IFO(r)","g":"Control","v":0.000886},{"t":"MD","p":"IFO(r)","g":"Control","v":0.000917},
{"t":"MD","p":"IFO(r)","g":"Control","v":0.000814},{"t":"MD","p":"IFO(r)","g":"Control","v":0.000872},{"t":"MD","p":"IFO(r)","g":"Control","v":0.000908},{"t":"MD","p":"IFO(r)","g":"Control","v":0.000971},
{"t":"MD","p":"IFO(r)","g":"Control","v":0.000845},{"t":"MD","p":"IFO(r)","g":"Control","v":0.000862},{"t":"MD","p":"IFO(r)","g":"Control","v":0.000890},{"t":"MD","p":"IFO(r)","g":"Control","v":0.000934},
{"t":"MD","p":"IFO(r)","g":"Control","v":0.000831},{"t":"MD","p":"IFO(r)","g":"Control","v":0.000879},{"t":"MD","p":"IFO(r)","g":"Control","v":0.000903},{"t":"MD","p":"IFO(r)","g":"Control","v":0.000915},
{"t":"MD","p":"IFO(r)","g":"Control","v":0.000854},{"t":"MD","p":"IFO(r)","g":"Control","v":0.000869},{"t":"MD","p":"IFO(r)","g":"Control","v":0.000896},{"t":"MD","p":"IFO(r)","g":"Control","v":0.000954},
{"t":"MD","p":"IFO(r)","g":"Control","v":0.000839},{"t":"MD","p":"IFO(r)","g":"Control","v":0.000876},{"t":"MD","p":"IFO(r)","g":"Control","v":0.000905},{"t":"MD","p":"IFO(r)","g":"Control","v":0.000925},
{"t":"MD","p":"IFO(r)","g":"Control","v":0.000938},
{"t":"MD","p":"IFO(r)","g":"Med","v":0.000951},
{"t":"MD","p":"IFO(r)","g":"Med","v":0.000926},{"t":"MD","p":"IFO(r)","g":"Med","v":0.000942},{"t":"MD","p":"IFO(r)","g":"Med","v":0.000872},{"t":"MD","p":"IFO(r)","g":"Med","v":0.000905},
{"t":"MD","p":"IFO(r)","g":"Med","v":0.000920},{"t":"MD","p":"IFO(r)","g":"Med","v":0.000978},{"t":"MD","p":"IFO(r)","g":"Med","v":0.000886},{"t":"MD","p":"IFO(r)","g":"Med","v":0.000899},
{"t":"MD","p":"IFO(r)","g":"Med","v":0.000925},{"t":"MD","p":"IFO(r)","g":"Med","v":0.000933},{"t":"MD","p":"IFO(r)","g":"Med","v":0.000864},{"t":"MD","p":"IFO(r)","g":"Med","v":0.000908},
{"t":"MD","p":"IFO(r)","g":"Med","v":0.000916},{"t":"MD","p":"IFO(r)","g":"Med","v":0.000949},{"t":"MD","p":"IFO(r)","g":"Med","v":0.000877},{"t":"MD","p":"IFO(r)","g":"Med","v":0.000893},
{"t":"MD","p":"IFO(r)","g":"Med","v":0.000928},{"t":"MD","p":"IFO(r)","g":"Med","v":0.001010},{"t":"MD","p":"IFO(r)","g":"Med","v":0.000826},{"t":"MD","p":"IFO(r)","g":"Med","v":0.000902},
{"t":"MD","p":"IFO(r)","g":"Med","v":0.000913},{"t":"MD","p":"IFO(r)","g":"Med","v":0.000935},{"t":"MD","p":"IFO(r)","g":"Med","v":0.000884},{"t":"MD","p":"IFO(r)","g":"Med","v":0.000894},
{"t":"MD","p":"IFO(r)","g":"Med","v":0.000922},{"t":"MD","p":"IFO(r)","g":"Med","v":0.000954},{"t":"MD","p":"IFO(r)","g":"Med","v":0.000845},{"t":"MD","p":"IFO(r)","g":"Med","v":0.000909},
{"t":"MD","p":"IFO(r)","g":"Med","v":0.000910},{"t":"MD","p":"IFO(r)","g":"Med","v":0.000929},{"t":"MD","p":"IFO(r)","g":"Med","v":0.000875},{"t":"MD","p":"IFO(r)","g":"Med","v":0.000904},
{"t":"MD","p":"IFO(r)","g":"Med","v":0.000915},{"t":"MD","p":"IFO(r)","g":"Med","v":0.000944},{"t":"MD","p":"IFO(r)","g":"Med","v":0.000888},{"t":"MD","p":"IFO(r)","g":"Med","v":0.000890},
{"t":"MD","p":"IFO(r)","g":"Med","v":0.000927},{"t":"MD","p":"IFO(r)","g":"Med","v":0.000992},{"t":"MD","p":"IFO(r)","g":"Med","v":0.000859},{"t":"MD","p":"IFO(r)","g":"Med","v":0.000897},
{"t":"MD","p":"IFO(r)","g":"Med","v":0.000912},{"t":"MD","p":"IFO(r)","g":"Med","v":0.000931},{"t":"MD","p":"IFO(r)","g":"Med","v":0.000880},{"t":"MD","p":"IFO(r)","g":"Med","v":0.000907},
{"t":"MD","p":"IFO(r)","g":"Med","v":0.000923},{"t":"MD","p":"IFO(r)","g":"Med","v":0.000966},{"t":"MD","p":"IFO(r)","g":"Med","v":0.000825},{"t":"MD","p":"IFO(r)","g":"Med","v":0.000891},
{"t":"MD","p":"IFO(r)","g":"Med","v":0.000918},{"t":"MD","p":"IFO(r)","g":"Med","v":0.000940},{"t":"MD","p":"IFO(r)","g":"Med","v":0.000870},{"t":"MD","p":"IFO(r)","g":"Med","v":0.000900},
{"t":"RD","p":"PFCC","g":"Control","v":0.000907},{"t":"RD","p":"PFCC","g":"Control","v":0.000813},{"t":"RD","p":"PFCC","g":"Control","v":0.001010},{"t":"RD","p":"PFCC","g":"Control","v":0.000953},
{"t":"RD","p":"PFCC","g":"Control","v":0.000880},{"t":"RD","p":"PFCC","g":"Control","v":0.000735},{"t":"RD","p":"PFCC","g":"Control","v":0.001064},{"t":"RD","p":"PFCC","g":"Control","v":0.000967},
{"t":"RD","p":"PFCC","g":"Control","v":0.000925},{"t":"RD","p":"PFCC","g":"Control","v":0.000845},{"t":"RD","p":"PFCC","g":"Control","v":0.000987},{"t":"RD","p":"PFCC","g":"Control","v":0.000939},
{"t":"RD","p":"PFCC","g":"Control","v":0.000897},{"t":"RD","p":"PFCC","g":"Control","v":0.000777},{"t":"RD","p":"PFCC","g":"Control","v":0.001096},{"t":"RD","p":"PFCC","g":"Control","v":0.000976},
{"t":"RD","p":"PFCC","g":"Control","v":0.000876},{"t":"RD","p":"PFCC","g":"Control","v":0.000869},{"t":"RD","p":"PFCC","g":"Control","v":0.001022},{"t":"RD","p":"PFCC","g":"Control","v":0.000947},
{"t":"RD","p":"PFCC","g":"Control","v":0.000916},{"t":"RD","p":"PFCC","g":"Control","v":0.000828},{"t":"RD","p":"PFCC","g":"Control","v":0.000980},{"t":"RD","p":"PFCC","g":"Control","v":0.000935},
{"t":"RD","p":"PFCC","g":"Control","v":0.000933},{"t":"RD","p":"PFCC","g":"Control","v":0.000760},{"t":"RD","p":"PFCC","g":"Control","v":0.001051},{"t":"RD","p":"PFCC","g":"Control","v":0.000963},
{"t":"RD","p":"PFCC","g":"Control","v":0.000889},{"t":"RD","p":"PFCC","g":"Control","v":0.000856},{"t":"RD","p":"PFCC","g":"Control","v":0.000998},{"t":"RD","p":"PFCC","g":"Control","v":0.000943},
{"t":"RD","p":"PFCC","g":"Control","v":0.000912},{"t":"RD","p":"PFCC","g":"Control","v":0.000746},{"t":"RD","p":"PFCC","g":"Control","v":0.001116},{"t":"RD","p":"PFCC","g":"Control","v":0.000979},
{"t":"RD","p":"PFCC","g":"Control","v":0.000884},{"t":"RD","p":"PFCC","g":"Control","v":0.000837},{"t":"RD","p":"PFCC","g":"Control","v":0.001034},{"t":"RD","p":"PFCC","g":"Control","v":0.000950},
{"t":"RD","p":"PFCC","g":"Control","v":0.000929},{"t":"RD","p":"PFCC","g":"Control","v":0.000794},{"t":"RD","p":"PFCC","g":"Control","v":0.000992},{"t":"RD","p":"PFCC","g":"Control","v":0.000971},
{"t":"RD","p":"PFCC","g":"Control","v":0.000902},{"t":"RD","p":"PFCC","g":"Control","v":0.000862},{"t":"RD","p":"PFCC","g":"Control","v":0.001078},{"t":"RD","p":"PFCC","g":"Control","v":0.000960},
{"t":"RD","p":"PFCC","g":"Control","v":0.000921},{"t":"RD","p":"PFCC","g":"Control","v":0.000820},{"t":"RD","p":"PFCC","g":"Control","v":0.001015},{"t":"RD","p":"PFCC","g":"Control","v":0.000974},
{"t":"RD","p":"PFCC","g":"Control","v":0.001043},
{"t":"RD","p":"PFCC","g":"Med","v":0.001054},
{"t":"RD","p":"PFCC","g":"Med","v":0.000887},{"t":"RD","p":"PFCC","g":"Med","v":0.000956},{"t":"RD","p":"PFCC","g":"Med","v":0.001002},{"t":"RD","p":"PFCC","g":"Med","v":0.001034},
{"t":"RD","p":"PFCC","g":"Med","v":0.000919},{"t":"RD","p":"PFCC","g":"Med","v":0.000945},{"t":"RD","p":"PFCC","g":"Med","v":0.000988},{"t":"RD","p":"PFCC","g":"Med","v":0.001079},
{"t":"RD","p":"PFCC","g":"Med","v":0.000868},{"t":"RD","p":"PFCC","g":"Med","v":0.000960},{"t":"RD","p":"PFCC","g":"Med","v":0.000999},{"t":"RD","p":"PFCC","g":"Med","v":0.001017},
{"t":"RD","p":"PFCC","g":"Med","v":0.000900},{"t":"RD","p":"PFCC","g":"Med","v":0.000935},{"t":"RD","p":"PFCC","g":"Med","v":0.000978},{"t":"RD","p":"PFCC","g":"Med","v":0.001048},
{"t":"RD","p":"PFCC","g":"Med","v":0.000823},{"t":"RD","p":"PFCC","g":"Med","v":0.000951},{"t":"RD","p":"PFCC","g":"Med","v":0.001007},{"t":"RD","p":"PFCC","g":"Med","v":0.001107},
{"t":"RD","p":"PFCC","g":"Med","v":0.000915},{"t":"RD","p":"PFCC","g":"Med","v":0.000937},{"t":"RD","p":"PFCC","g":"Med","v":0.000971},{"t":"RD","p":"PFCC","g":"Med","v":0.001021},
{"t":"RD","p":"PFCC","g":"Med","v":0.000842},{"t":"RD","p":"PFCC","g":"Med","v":0.000963},{"t":"RD","p":"PFCC","g":"Med","v":0.000992},{"t":"RD","p":"PFCC","g":"Med","v":0.001059},
{"t":"RD","p":"PFCC","g":"Med","v":0.000894},{"t":"RD","p":"PFCC","g":"Med","v":0.000953},{"t":"RD","p":"PFCC","g":"Med","v":0.000964},{"t":"RD","p":"PFCC","g":"Med","v":0.001008},
{"t":"RD","p":"PFCC","g":"Med","v":0.000925},{"t":"RD","p":"PFCC","g":"Med","v":0.000930},{"t":"RD","p":"PFCC","g":"Med","v":0.000976},{"t":"RD","p":"PFCC","g":"Med","v":0.001039},
{"t":"RD","p":"PFCC","g":"Med","v":0.000855},{"t":"RD","p":"PFCC","g":"Med","v":0.000942},{"t":"RD","p":"PFCC","g":"Med","v":0.001004},{"t":"RD","p":"PFCC","g":"Med","v":0.001092},
{"t":"RD","p":"PFCC","g":"Med","v":0.000906},{"t":"RD","p":"PFCC","g":"Med","v":0.000958},{"t":"RD","p":"PFCC","g":"Med","v":0.000968},{"t":"RD","p":"PFCC","g":"Med","v":0.001013},
{"t":"RD","p":"PFCC","g":"Med","v":0.000808},{"t":"RD","p":"PFCC","g":"Med","v":0.000932},{"t":"RD","p":"PFCC","g":"Med","v":0.000995},{"t":"RD","p":"PFCC","g":"Med","v":0.001069},
{"t":"RD","p":"PFCC","g":"Med","v":0.000882},{"t":"RD","p":"PFCC","g":"Med","v":0.000948},{"t":"RD","p":"PFCC","g":"Med","v":0.000982},{"t":"RD","p":"PFCC","g":"Med","v":0.001030},
{"t":"RD","p":"IFO(l)","g":"Control","v":0.000777},{"t":"RD","p":"IFO(l)","g":"Control","v":0.000814},{"t":"RD","p":"IFO(l)","g":"Control","v":0.000711},{"t":"RD","p":"IFO(l)","g":"Control","v":0.000750},
{"t":"RD","p":"IFO(l)","g":"Control","v":0.000787},{"t":"RD","p":"IFO(l)","g":"Control","v":0.000847},{"t":"RD","p":"IFO(l)","g":"Control","v":0.000681},{"t":"RD","p":"IFO(l)","g":"Control","v":0.000737},
{"t":"RD","p":"IFO(l)","g":"Control","v":0.000767},{"t":"RD","p":"IFO(l)","g":"Control","v":0.000800},{"t":"RD","p":"IFO(l)","g":"Control","v":0.000723},{"t":"RD","p":"IFO(l)","g":"Control","v":0.000759},
{"t":"RD","p":"IFO(l)","g":"Control","v":0.000793},{"t":"RD","p":"IFO(l)","g":"Control","v":0.000866},{"t":"RD","p":"IFO(l)","g":"Control","v":0.000697},{"t":"RD","p":"IFO(l)","g":"Control","v":0.000745},
{"t":"RD","p":"IFO(l)","g":"Control","v":0.000773},{"t":"RD","p":"IFO(l)","g":"Control","v":0.000821},{"t":"RD","p":"IFO(l)","g":"Control","v":0.000732},{"t":"RD","p":"IFO(l)","g":"Control","v":0.000735},
{"t":"RD","p":"IFO(l)","g":"Control","v":0.000764},{"t":"RD","p":"IFO(l)","g":"Control","v":0.000796},{"t":"RD","p":"IFO(l)","g":"Control","v":0.000717},{"t":"RD","p":"IFO(l)","g":"Control","v":0.000755},
{"t":"RD","p":"IFO(l)","g":"Control","v":0.000784},{"t":"RD","p":"IFO(l)","g":"Control","v":0.000839},{"t":"RD","p":"IFO(l)","g":"Control","v":0.000691},{"t":"RD","p":"IFO(l)","g":"Control","v":0.000763},
{"t":"RD","p":"IFO(l)","g":"Control","v":0.000769},{"t":"RD","p":"IFO(l)","g":"Control","v":0.000807},{"t":"RD","p":"IFO(l)","g":"Control","v":0.000727},{"t":"RD","p":"IFO(l)","g":"Control","v":0.000741},
{"t":"RD","p":"IFO(l)","g":"Control","v":0.000795},{"t":"RD","p":"IFO(l)","g":"Control","v":0.000878},{"t":"RD","p":"IFO(l)","g":"Control","v":0.000685},{"t":"RD","p":"IFO(l)","g":"Control","v":0.000753},
{"t":"RD","p":"IFO(l)","g":"Control","v":0.000775},{"t":"RD","p":"IFO(l)","g":"Control","v":0.000829},{"t":"RD","p":"IFO(l)","g":"Control","v":0.000720},{"t":"RD","p":"IFO(l)","g":"Control","v":0.000739},
{"t":"RD","p":"IFO(l)","g":"Control","v":0.000790},{"t":"RD","p":"IFO(l)","g":"Control","v":0.000803},{"t":"RD","p":"IFO(l)","g":"Control","v":0.000704},{"t":"RD","p":"IFO(l)","g":"Control","v":0.000761},
{"t":"RD","p":"IFO(l)","g":"Control","v":0.000782},{"t":"RD","p":"IFO(l)","g":"Control","v":0.000855},{"t":"RD","p":"IFO(l)","g":"Control","v":0.000730},{"t":"RD","p":"IFO(l)","g":"Control","v":0.000748},
{"t":"RD","p":"IFO(l)","g":"Control","v":0.000791},{"t":"RD","p":"IFO(l)","g":"Control","v":0.000817},{"t":"RD","p":"IFO(l)","g":"Control","v":0.000713},{"t":"RD","p":"IFO(l)","g":"Control","v":0.000757},
{"t":"RD","p":"IFO(l)","g":"Control","v":0.000834},
{"t":"RD","p":"IFO(l)","g":"Med","v":0.000843},
{"t":"RD","p":"IFO(l)","g":"Med","v":0.000833},{"t":"RD","p":"IFO(l)","g":"Med","v":0.000795},{"t":"RD","p":"IFO(l)","g":"Med","v":0.000756},{"t":"RD","p":"IFO(l)","g":"Med","v":0.000818},
{"t":"RD","p":"IFO(l)","g":"Med","v":0.000856},{"t":"RD","p":"IFO(l)","g":"Med","v":0.000789},{"t":"RD","p":"IFO(l)","g":"Med","v":0.000774},{"t":"RD","p":"IFO(l)","g":"Med","v":0.000812},
{"t":"RD","p":"IFO(l)","g":"Med","v":0.000825},{"t":"RD","p":"IFO(l)","g":"Med","v":0.000798},{"t":"RD","p":"IFO(l)","g":"Med","v":0.000746},{"t":"RD","p":"IFO(l)","g":"Med","v":0.000817},
{"t":"RD","p":"IFO(l)","g":"Med","v":0.000840},{"t":"RD","p":"IFO(l)","g":"Med","v":0.000783},{"t":"RD","p":"IFO(l)","g":"Med","v":0.000763},{"t":"RD","p":"IFO(l)","g":"Med","v":0.000807},
{"t":"RD","p":"IFO(l)","g":"Med","v":0.000869},{"t":"RD","p":"IFO(l)","g":"Med","v":0.000792},{"t":"RD","p":"IFO(l)","g":"Med","v":0.000726},{"t":"RD","p":"IFO(l)","g":"Med","v":0.000820},
{"t":"RD","p":"IFO(l)","g":"Med","v":0.000827},{"t":"RD","p":"IFO(l)","g":"Med","v":0.000784},{"t":"RD","p":"IFO(l)","g":"Med","v":0.000772},{"t":"RD","p":"IFO(l)","g":"Med","v":0.000804},
{"t":"RD","p":"IFO(l)","g":"Med","v":0.000846},{"t":"RD","p":"IFO(l)","g":"Med","v":0.000799},{"t":"RD","p":"IFO(l)","g":"Med","v":0.000732},{"t":"RD","p":"IFO(l)","g":"Med","v":0.000813},
{"t":"RD","p":"IFO(l)","g":"Med","v":0.000821},{"t":"RD","p":"IFO(l)","g":"Med","v":0.000794},{"t":"RD","p":"IFO(l)","g":"Med","v":0.000760},{"t":"RD","p":"IFO(l)","g":"Med","v":0.000800},
{"t":"RD","p":"IFO(l)","g":"Med","v":0.000836},{"t":"RD","p":"IFO(l)","g":"Med","v":0.000780},{"t":"RD","p":"IFO(l)","g":"Med","v":0.000777},{"t":"RD","p":"IFO(l)","g":"Med","v":0.000806},
{"t":"RD","p":"IFO(l)","g":"Med","v":0.000862},{"t":"RD","p":"IFO(l)","g":"Med","v":0.000787},{"t":"RD","p":"IFO(l)","g":"Med","v":0.000739},{"t":"RD","p":"IFO(l)","g":"Med","v":0.000819},
{"t":"RD","p":"IFO(l)","g":"Med","v":0.000823},{"t":"RD","p":"IFO(l)","g":"Med","v":0.000797},{"t":"RD","p":"IFO(l)","g":"Med","v":0.000767},{"t":"RD","p":"IFO(l)","g":"Med","v":0.000802},
{"t":"RD","p":"IFO(l)","g":"Med","v":0.000851},{"t":"RD","p":"IFO(l)","g":"Med","v":0.000781},{"t":"RD","p":"IFO(l)","g":"Med","v":0.000721},{"t":"RD","p":"IFO(l)","g":"Med","v":0.000815},
{"t":"RD","p":"IFO(l)","g":"Med","v":0.000832},{"t":"RD","p":"IFO(l)","g":"Med","v":0.000790},{"t":"RD","p":"IFO(l)","g":"Med","v":0.000753},{"t":"RD","p":"IFO(l)","g":"Med","v":0.000808},
{"t":"RD","p":"IFO(r)","g":"Control","v":0.000712},{"t":"RD","p":"IFO(r)","g":"Control","v":0.000753},{"t":"RD","p":"IFO(r)","g":"Control","v":0.000777},{"t":"RD","p":"IFO(r)","g":"Control","v":0.000808},
{"t":"RD","p":"IFO(r)","g":"Control","v":0.000681},{"t":"RD","p":"IFO(r)","g":"Control","v":0.000740},{"t":"RD","p":"IFO(r)","g":"Control","v":0.000785},{"t":"RD","p":"IFO(r)","g":"Control","v":0.000837},
{"t":"RD","p":"IFO(r)","g":"Control","v":0.000725},{"t":"RD","p":"IFO(r)","g":"Control","v":0.000762},{"t":"RD","p":"IFO(r)","g":"Control","v":0.000769},{"t":"RD","p":"IFO(r)","g":"Control","v":0.000796},
{"t":"RD","p":"IFO(r)","g":"Control","v":0.000698},{"t":"RD","p":"IFO(r)","g":"Control","v":0.000748},{"t":"RD","p":"IFO(r)","g":"Control","v":0.000790},{"t":"RD","p":"IFO(r)","g":"Control","v":0.000853},
{"t":"RD","p":"IFO(r)","g":"Control","v":0.000735},{"t":"RD","p":"IFO(r)","g":"Control","v":0.000738},{"t":"RD","p":"IFO(r)","g":"Control","v":0.000774},{"t":"RD","p":"IFO(r)","g":"Control","v":0.000814},
{"t":"RD","p":"IFO(r)","g":"Control","v":0.000719},{"t":"RD","p":"IFO(r)","g":"Control","v":0.000758},{"t":"RD","p":"IFO(r)","g":"Control","v":0.000767},{"t":"RD","p":"IFO(r)","g":"Control","v":0.000792},
{"t":"RD","p":"IFO(r)","g":"Control","v":0.000691},{"t":"RD","p":"IFO(r)","g":"Control","v":0.000766},{"t":"RD","p":"IFO(r)","g":"Control","v":0.000783},{"t":"RD","p":"IFO(r)","g":"Control","v":0.000829},
{"t":"RD","p":"IFO(r)","g":"Control","v":0.000730},{"t":"RD","p":"IFO(r)","g":"Control","v":0.000744},{"t":"RD","p":"IFO(r)","g":"Control","v":0.000771},{"t":"RD","p":"IFO(r)","g":"Control","v":0.000801},
{"t":"RD","p":"IFO(r)","g":"Control","v":0.000686},{"t":"RD","p":"IFO(r)","g":"Control","v":0.000756},{"t":"RD","p":"IFO(r)","g":"Control","v":0.000791},{"t":"RD","p":"IFO(r)","g":"Control","v":0.000864},
{"t":"RD","p":"IFO(r)","g":"Control","v":0.000722},{"t":"RD","p":"IFO(r)","g":"Control","v":0.000742},{"t":"RD","p":"IFO(r)","g":"Control","v":0.000775},{"t":"RD","p":"IFO(r)","g":"Control","v":0.000821},
{"t":"RD","p":"IFO(r)","g":"Control","v":0.000705},{"t":"RD","p":"IFO(r)","g":"Control","v":0.000764},{"t":"RD","p":"IFO(r)","g":"Control","v":0.000787},{"t":"RD","p":"IFO(r)","g":"Control","v":0.000798},
{"t":"RD","p":"IFO(r)","g":"Control","v":0.000732},{"t":"RD","p":"IFO(r)","g":"Control","v":0.000751},{"t":"RD","p":"IFO(r)","g":"Control","v":0.000781},{"t":"RD","p":"IFO(r)","g":"Control","v":0.000844},
{"t":"RD","p":"IFO(r)","g":"Control","v":0.000715},{"t":"RD","p":"IFO(r)","g":"Control","v":0.000760},{"t":"RD","p":"IFO(r)","g":"Control","v":0.000789},{"t":"RD","p":"IFO(r)","g":"Control","v":0.000811},
{"t":"RD","p":"IFO(r)","g":"Control","v":0.000825},
{"t":"RD","p":"IFO(r)","g":"Med","v":0.000853},
{"t":"RD","p":"IFO(r)","g":"Med","v":0.000839},{"t":"RD","p":"IFO(r)","g":"Med","v":0.000788},{"t":"RD","p":"IFO(r)","g":"Med","v":0.000750},{"t":"RD","p":"IFO(r)","g":"Med","v":0.000818},
{"t":"RD","p":"IFO(r)","g":"Med","v":0.000870},{"t":"RD","p":"IFO(r)","g":"Med","v":0.000782},{"t":"RD","p":"IFO(r)","g":"Med","v":0.000768},{"t":"RD","p":"IFO(r)","g":"Med","v":0.000808},
{"t":"RD","p":"IFO(r)","g":"Med","v":0.000828},{"t":"RD","p":"IFO(r)","g":"Med","v":0.000790},{"t":"RD","p":"IFO(r)","g":"Med","v":0.000740},{"t":"RD","p":"IFO(r)","g":"Med","v":0.000816},
{"t":"RD","p":"IFO(r)","g":"Med","v":0.000849},{"t":"RD","p":"IFO(r)","g":"Med","v":0.000777},{"t":"RD","p":"IFO(r)","g":"Med","v":0.000757},{"t":"RD","p":"IFO(r)","g":"Med","v":0.000802},
{"t":"RD","p":"IFO(r)","g":"Med","v":0.000889},{"t":"RD","p":"IFO(r)","g":"Med","v":0.000785},{"t":"RD","p":"IFO(r)","g":"Med","v":0.000715},{"t":"RD","p":"IFO(r)","g":"Med","v":0.000821},
{"t":"RD","p":"IFO(r)","g":"Med","v":0.000831},{"t":"RD","p":"IFO(r)","g":"Med","v":0.000778},{"t":"RD","p":"IFO(r)","g":"Med","v":0.000766},{"t":"RD","p":"IFO(r)","g":"Med","v":0.000797},
{"t":"RD","p":"IFO(r)","g":"Med","v":0.000857},{"t":"RD","p":"IFO(r)","g":"Med","v":0.000791},{"t":"RD","p":"IFO(r)","g":"Med","v":0.000726},{"t":"RD","p":"IFO(r)","g":"Med","v":0.000811},
{"t":"RD","p":"IFO(r)","g":"Med","v":0.000822},{"t":"RD","p":"IFO(r)","g":"Med","v":0.000786},{"t":"RD","p":"IFO(r)","g":"Med","v":0.000754},{"t":"RD","p":"IFO(r)","g":"Med","v":0.000792},
{"t":"RD","p":"IFO(r)","g":"Med","v":0.000843},{"t":"RD","p":"IFO(r)","g":"Med","v":0.000774},{"t":"RD","p":"IFO(r)","g":"Med","v":0.000771},{"t":"RD","p":"IFO(r)","g":"Med","v":0.000800},
{"t":"RD","p":"IFO(r)","g":"Med","v":0.000879},{"t":"RD","p":"IFO(r)","g":"Med","v":0.000780},{"t":"RD","p":"IFO(r)","g":"Med","v":0.000733},{"t":"RD","p":"IFO(r)","g":"Med","v":0.000820},
{"t":"RD","p":"IFO(r)","g":"Med","v":0.000825},{"t":"RD","p":"IFO(r)","g":"Med","v":0.000789},{"t":"RD","p":"IFO(r)","g":"Med","v":0.000761},{"t":"RD","p":"IFO(r)","g":"Med","v":0.000795},
{"t":"RD","p":"IFO(r)","g":"Med","v":0.000864},{"t":"RD","p":"IFO(r)","g":"Med","v":0.000775},{"t":"RD","p":"IFO(r)","g":"Med","v":0.000697},{"t":"RD","p":"IFO(r)","g":"Med","v":0.000813},
{"t":"RD","p":"IFO(r)","g":"Med","v":0.000837},{"t":"RD","p":"IFO(r)","g":"Med","v":0.000783},{"t":"RD","p":"IFO(r)","g":"Med","v":0.000747},{"t":"RD","p":"IFO(r)","g":"Med","v":0.000804}
]},
"vconcat":[
{"data":{"name":"panels"},
 "facet":{"column":{"field":"p","type":"nominal","sort":["PFCC","ATR(l)","ATR(r)","IFO(l)","IFO(r)"],"title":null,"header":{"labels":false,"title":null}}},
 "spacing":6,
 "spec":{"width":101,"height":24,"view":{"fill":"#CCCCCC","stroke":null},
  "mark":{"type":"text","fontSize":17,"color":"#1A1A1A","font":"Liberation Sans","baseline":"middle"},
  "encoding":{"text":{"field":"p","type":"nominal"},
   "y":{"datum":0.5,"type":"quantitative","scale":{"domain":[0,1]},"axis":{"title":null,"values":[0.5],"format":".4f","labelColor":"transparent","tickColor":"transparent","grid":false,"tickSize":6,"labelPadding":7}}}}},
{"vconcat":[
 {"hconcat":[
  {"data":{"name":"pts"},"transform":[{"filter":"datum.t==='AD'"}],
   "facet":{"column":{"field":"p","type":"nominal","sort":["PFCC","ATR(l)","ATR(r)","IFO(l)","IFO(r)"],"title":null,"header":{"labels":false,"title":null}}},
   "spacing":6,
   "spec":{"width":101,"height":169,
    "encoding":{
     "x":{"field":"g","type":"nominal","scale":{"type":"point","padding":0.6,"domain":["Control","Med"]},"axis":{"title":null,"labels":false,"ticks":false,"grid":true,"gridColor":"#FFFFFF","gridWidth":1.8}},
     "y":{"field":"v","type":"quantitative","scale":{"domain":[0.001064,0.001569],"nice":false,"zero":false},
      "axis":{"title":null,"values":[0.0011,0.00115,0.0012,0.00125,0.0013,0.00135,0.0014,0.00145,0.0015,0.00155],
       "labelExpr":"abs(datum.value*10000-round(datum.value*10000))<0.1 ? format(datum.value,'.4f') : ''",
       "grid":true,"gridColor":{"condition":{"test":"abs(datum.value*10000-round(datum.value*10000))<0.1","value":"#FFFFFF"},"value":"#F3F3F3"},
       "gridWidth":{"condition":{"test":"abs(datum.value*10000-round(datum.value*10000))<0.1","value":1.8},"value":0.9},
       "tickOpacity":{"condition":{"test":"abs(datum.value*10000-round(datum.value*10000))<0.1","value":1},"value":0},
       "tickSize":6,"labelPadding":7}}},
    "layer":[
     {"transform":[{"window":[{"op":"row_number","as":"k"}],"groupby":["t","p","g"]}],
      "mark":{"type":"circle","size":26,"opacity":0.95},
      "encoding":{"xOffset":{"field":"k","type":"quantitative","scale":{"domain":[1,53],"range":[-14,14]}},
       "color":{"field":"p","type":"nominal","scale":{"domain":["PFCC","ATR(l)","ATR(r)","IFO(l)","IFO(r)"],"range":["#DAA520","#66CDAA","#2E8B57","#FA8072","#B22222"]},"legend":null}}},
     {"transform":[{"filter":"isValid(datum.v)"}],
      "mark":{"type":"boxplot","extent":1.5,"size":34,"outliers":false,"ticks":false,
       "box":{"fillOpacity":0,"stroke":"#333333","strokeWidth":1.8},
       "median":{"color":"#333333","thickness":3.5},
       "rule":{"color":"#333333","strokeWidth":1.8}}}
    ]}},
  {"data":{"name":"strips"},"transform":[{"filter":"datum.t==='AD'"}],"width":15,"height":169,"view":{"fill":"#CCCCCC","stroke":null},
   "mark":{"type":"text","angle":90,"fontSize":16,"color":"#1A1A1A","baseline":"middle","dy":5},"encoding":{"text":{"field":"t","type":"nominal"}}}
 ],"spacing":2},
 {"hconcat":[
  {"data":{"name":"pts"},"transform":[{"filter":"datum.t==='MD'"}],
   "facet":{"column":{"field":"p","type":"nominal","sort":["PFCC","ATR(l)","ATR(r)","IFO(l)","IFO(r)"],"title":null,"header":{"labels":false,"title":null}}},
   "spacing":6,
   "spec":{"width":101,"height":169,
    "encoding":{
     "x":{"field":"g","type":"nominal","scale":{"type":"point","padding":0.6,"domain":["Control","Med"]},"axis":{"title":null,"labels":false,"ticks":false,"grid":true,"gridColor":"#FFFFFF","gridWidth":1.8}},
     "y":{"field":"v","type":"quantitative","scale":{"domain":[0.000788,0.001122],"nice":false,"zero":false},
      "axis":{"title":null,"values":[0.0008,0.00085,0.0009,0.00095,0.001,0.00105,0.0011],
       "labelExpr":"abs(datum.value*10000-round(datum.value*10000))<0.1 ? format(datum.value,'.4f') : ''",
       "grid":true,"gridColor":{"condition":{"test":"abs(datum.value*10000-round(datum.value*10000))<0.1","value":"#FFFFFF"},"value":"#F3F3F3"},
       "gridWidth":{"condition":{"test":"abs(datum.value*10000-round(datum.value*10000))<0.1","value":1.8},"value":0.9},
       "tickOpacity":{"condition":{"test":"abs(datum.value*10000-round(datum.value*10000))<0.1","value":1},"value":0},
       "tickSize":6,"labelPadding":7}}},
    "layer":[
     {"transform":[{"window":[{"op":"row_number","as":"k"}],"groupby":["t","p","g"]}],
      "mark":{"type":"circle","size":26,"opacity":0.95},
      "encoding":{"xOffset":{"field":"k","type":"quantitative","scale":{"domain":[1,53],"range":[-14,14]}},
       "color":{"field":"p","type":"nominal","scale":{"domain":["PFCC","ATR(l)","ATR(r)","IFO(l)","IFO(r)"],"range":["#DAA520","#66CDAA","#2E8B57","#FA8072","#B22222"]},"legend":null}}},
     {"transform":[{"filter":"isValid(datum.v)"}],
      "mark":{"type":"boxplot","extent":1.5,"size":34,"outliers":false,"ticks":false,
       "box":{"fillOpacity":0,"stroke":"#333333","strokeWidth":1.8},
       "median":{"color":"#333333","thickness":3.5},
       "rule":{"color":"#333333","strokeWidth":1.8}}}
    ]}},
  {"data":{"name":"strips"},"transform":[{"filter":"datum.t==='MD'"}],"width":15,"height":169,"view":{"fill":"#CCCCCC","stroke":null},
   "mark":{"type":"text","angle":90,"fontSize":16,"color":"#1A1A1A","baseline":"middle","dy":5},"encoding":{"text":{"field":"t","type":"nominal"}}}
 ],"spacing":2},
 {"hconcat":[
  {"data":{"name":"pts"},"transform":[{"filter":"datum.t==='RD'"}],
   "facet":{"column":{"field":"p","type":"nominal","sort":["PFCC","ATR(l)","ATR(r)","IFO(l)","IFO(r)"],"title":null,"header":{"labels":false,"title":null}}},
   "spacing":6,
   "spec":{"width":101,"height":169,
    "encoding":{
     "x":{"field":"g","type":"nominal","scale":{"type":"point","padding":0.6,"domain":["Control","Med"]},"axis":{"title":null,"labelAngle":-22,"labelAlign":"right","labelBaseline":"top","labelPadding":4,"tickSize":6,"grid":true,"gridColor":"#FFFFFF","gridWidth":1.8}},
     "y":{"field":"v","type":"quantitative","scale":{"domain":[0.00066,0.001143],"nice":false,"zero":false},
      "axis":{"title":null,"values":[0.0007,0.00075,0.0008,0.00085,0.0009,0.00095,0.001,0.00105,0.0011],
       "labelExpr":"abs(datum.value*10000-round(datum.value*10000))<0.1 ? format(datum.value,'.4f') : ''",
       "grid":true,"gridColor":{"condition":{"test":"abs(datum.value*10000-round(datum.value*10000))<0.1","value":"#FFFFFF"},"value":"#F3F3F3"},
       "gridWidth":{"condition":{"test":"abs(datum.value*10000-round(datum.value*10000))<0.1","value":1.8},"value":0.9},
       "tickOpacity":{"condition":{"test":"abs(datum.value*10000-round(datum.value*10000))<0.1","value":1},"value":0},
       "tickSize":6,"labelPadding":7}}},
    "layer":[
     {"transform":[{"window":[{"op":"row_number","as":"k"}],"groupby":["t","p","g"]}],
      "mark":{"type":"circle","size":26,"opacity":0.95},
      "encoding":{"xOffset":{"field":"k","type":"quantitative","scale":{"domain":[1,53],"range":[-14,14]}},
       "color":{"field":"p","type":"nominal","scale":{"domain":["PFCC","ATR(l)","ATR(r)","IFO(l)","IFO(r)"],"range":["#DAA520","#66CDAA","#2E8B57","#FA8072","#B22222"]},"legend":null}}},
     {"transform":[{"filter":"isValid(datum.v)"}],
      "mark":{"type":"boxplot","extent":1.5,"size":34,"outliers":false,"ticks":false,
       "box":{"fillOpacity":0,"stroke":"#333333","strokeWidth":1.8},
       "median":{"color":"#333333","thickness":3.5},
       "rule":{"color":"#333333","strokeWidth":1.8}}}
    ]}},
  {"data":{"name":"strips"},"transform":[{"filter":"datum.t==='RD'"}],"width":15,"height":169,"view":{"fill":"#CCCCCC","stroke":null},
   "mark":{"type":"text","angle":90,"fontSize":16,"color":"#1A1A1A","baseline":"middle","dy":5},"encoding":{"text":{"field":"t","type":"nominal"}}}
 ],"spacing":2}
],"spacing":6}
],
"spacing":2
}
